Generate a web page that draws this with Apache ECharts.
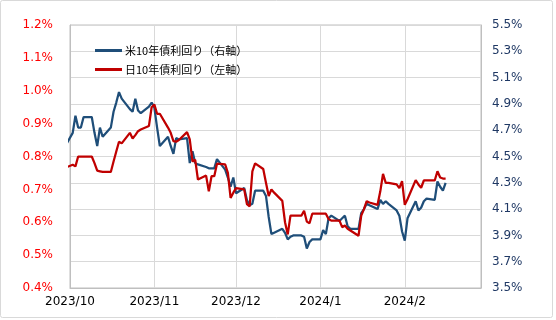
<!DOCTYPE html>
<html>
<head>
<meta charset="utf-8">
<script src="https://cdn.jsdelivr.net/npm/echarts@6/dist/echarts.min.js"></script>
<style>
html,body{margin:0;padding:0;background:#fff;}
#chart{width:556px;height:320px;}
</style>
</head>
<body>
<div id="chart"></div>
<script>
// ---- data ----
const dates = [
  '2023-09-29',
  '2023-10-02','2023-10-03','2023-10-04','2023-10-05','2023-10-06',
  '2023-10-09','2023-10-10','2023-10-11','2023-10-12','2023-10-13',
  '2023-10-16','2023-10-17','2023-10-18','2023-10-19','2023-10-20',
  '2023-10-23','2023-10-24','2023-10-25','2023-10-26','2023-10-27',
  '2023-10-30','2023-10-31',
  '2023-11-01','2023-11-02','2023-11-03',
  '2023-11-06','2023-11-07','2023-11-08','2023-11-09','2023-11-10',
  '2023-11-13','2023-11-14','2023-11-15','2023-11-16','2023-11-17',
  '2023-11-20','2023-11-21','2023-11-22','2023-11-23','2023-11-24',
  '2023-11-27','2023-11-28','2023-11-29','2023-11-30',
  '2023-12-01',
  '2023-12-04','2023-12-05','2023-12-06','2023-12-07','2023-12-08',
  '2023-12-11','2023-12-12','2023-12-13','2023-12-14','2023-12-15',
  '2023-12-18','2023-12-19','2023-12-20','2023-12-21','2023-12-22',
  '2023-12-25','2023-12-26','2023-12-27','2023-12-28','2023-12-29',
  '2024-01-01','2024-01-02','2024-01-03','2024-01-04','2024-01-05',
  '2024-01-08','2024-01-09','2024-01-10','2024-01-11','2024-01-12',
  '2024-01-15','2024-01-16','2024-01-17','2024-01-18','2024-01-19',
  '2024-01-22','2024-01-23','2024-01-24','2024-01-25','2024-01-26',
  '2024-01-29','2024-01-30','2024-01-31',
  '2024-02-01','2024-02-02',
  '2024-02-05','2024-02-06','2024-02-07','2024-02-08','2024-02-09',
  '2024-02-12','2024-02-13','2024-02-14','2024-02-15','2024-02-16'
];
const usYield = [
  4.57,
  4.68,4.81,4.72,4.72,4.80,
  4.80,4.68,4.58,4.72,4.65,
  4.72,4.84,4.91,4.99,4.94,
  4.86,4.84,4.94,4.85,4.83,
  4.88,4.91,
  4.87,4.72,4.58,
  4.65,4.58,4.52,4.64,4.63,
  4.64,4.45,4.54,4.45,4.44,
  4.42,4.41,4.41,4.41,4.48,
  4.40,4.34,4.27,4.34,
  4.22,
  4.26,4.17,4.13,4.14,4.24,
  4.24,4.20,4.04,3.91,3.92,
  3.95,3.92,3.87,3.89,3.90,
  3.90,3.89,3.80,3.85,3.87,
  3.87,3.94,3.91,4.03,4.05,
  4.01,4.03,4.05,3.97,3.95,
  3.95,4.07,4.10,4.14,4.13,
  4.10,4.17,4.14,4.16,4.14,
  4.09,4.05,3.93,
  3.86,4.03,
  4.16,4.09,4.11,4.16,4.18,
  4.17,4.31,4.27,4.24,4.30
];
const jpYield = [
  0.765,
  0.775,0.770,0.800,0.800,0.800,
  0.800,0.780,0.757,0.755,0.753,
  0.753,0.785,0.815,0.845,0.840,
  0.872,0.855,0.865,0.877,0.882,
  0.893,0.950,
  0.958,0.930,0.930,
  0.888,0.872,0.847,0.845,0.850,
  0.874,0.852,0.785,0.790,0.730,
  0.742,0.694,0.740,0.740,0.778,
  0.776,0.750,0.674,0.690,
  0.704,
  0.700,0.655,0.648,0.755,0.779,
  0.762,0.720,0.680,0.700,0.690,
  0.665,0.600,0.563,0.620,0.620,
  0.620,0.635,0.602,0.597,0.626,
  0.626,0.626,0.626,0.610,0.605,
  0.605,0.585,0.590,0.580,0.575,
  0.559,0.620,0.640,0.664,0.660,
  0.653,0.694,0.747,0.720,0.720,
  0.715,0.704,0.725,
  0.653,0.670,
  0.728,0.715,0.705,0.727,0.727,
  0.727,0.755,0.736,0.733,0.733
];
const seriesNames = ['米10年債利回り（右軸）', '日10年債利回り（左軸）'];
const leftTicks = [0.4, 0.5, 0.6, 0.7, 0.8, 0.9, 1.0, 1.1, 1.2];
const rightTicks = [3.5, 3.7, 3.9, 4.1, 4.3, 4.5, 4.7, 4.9, 5.1, 5.3, 5.5];
const xRange = ['2023-10-01', '2024-02-29'];

// ---- chart ----
const ts = s => new Date(s + 'T00:00:00').getTime();
const usData = dates.map((d, i) => [ts(d), usYield[i]]);
const jpData = dates.map((d, i) => [ts(d), jpYield[i]]);
const DAY = 86400000;

const chart = echarts.init(document.getElementById('chart'), null, {renderer: 'canvas'});
const axisFont = {fontFamily: 'DejaVu Sans', fontSize: 12};
chart.setOption({
  animation: false,
  backgroundColor: '#ffffff',
  graphic: [{
    type: 'rect', silent: true,
    shape: {x: 0.5, y: 0.5, width: 552, height: 317, r: 2},
    style: {fill: 'none', stroke: '#d9d9d9', lineWidth: 1}
  }],
  grid: {left: 70, right: 75, top: 25, bottom: 32, show: true, borderColor: '#bfbfbf', borderWidth: 1, containLabel: false},
  legend: {
    orient: 'vertical', left: 95, top: 45, itemGap: 8, padding: 0,
    icon: 'rect', itemWidth: 27, itemHeight: 3,
    textStyle: {fontFamily: 'Noto Sans CJK JP', fontSize: 11, color: '#000', padding: [0, 0, 0, -2]},
    data: seriesNames
  },
  xAxis: {
    type: 'time', min: ts(xRange[0]), max: ts(xRange[1]),
    minInterval: 28 * DAY, maxInterval: 31 * DAY,
    axisLine: {show: true, lineStyle: {color: '#bfbfbf'}},
    axisTick: {show: false},
    splitLine: {show: true, lineStyle: {color: '#d9d9d9'}},
    axisLabel: Object.assign({
      color: '#000', margin: 8, showMinLabel: true, showMaxLabel: false, hideOverlap: false,
      formatter: v => { const d = new Date(v); return d.getFullYear() + '/' + (d.getMonth() + 1); }
    }, axisFont)
  },
  yAxis: [{
    type: 'value', position: 'left', min: 0.4, max: 1.2,
    axisLine: {show: true, lineStyle: {color: '#bfbfbf'}},
    axisTick: {show: false, customValues: leftTicks},
    splitLine: {show: false},
    axisLabel: Object.assign({
      customValues: leftTicks, color: '#ff0000', margin: 17,
      formatter: v => v.toFixed(1) + '%'
    }, axisFont)
  }, {
    type: 'value', position: 'right', min: 3.5, max: 5.5,
    axisLine: {show: true, lineStyle: {color: '#bfbfbf'}},
    axisTick: {show: false, customValues: rightTicks},
    splitLine: {show: true, lineStyle: {color: '#d9d9d9'}},
    axisLabel: Object.assign({
      customValues: rightTicks, color: '#1f3864', margin: 11,
      formatter: v => v.toFixed(1) + '%'
    }, axisFont)
  }],
  series: [{
    name: seriesNames[0], type: 'line', yAxisIndex: 1, data: usData,
    showSymbol: false, symbol: 'none', clip: true,
    itemStyle: {color: '#1f4e79'},
    lineStyle: {color: '#1f4e79', width: 2.25}
  }, {
    name: seriesNames[1], type: 'line', yAxisIndex: 0, data: jpData,
    showSymbol: false, symbol: 'none', clip: true,
    itemStyle: {color: '#c00000'},
    lineStyle: {color: '#c00000', width: 2.25}
  }]
});
</script>
</body>
</html>
